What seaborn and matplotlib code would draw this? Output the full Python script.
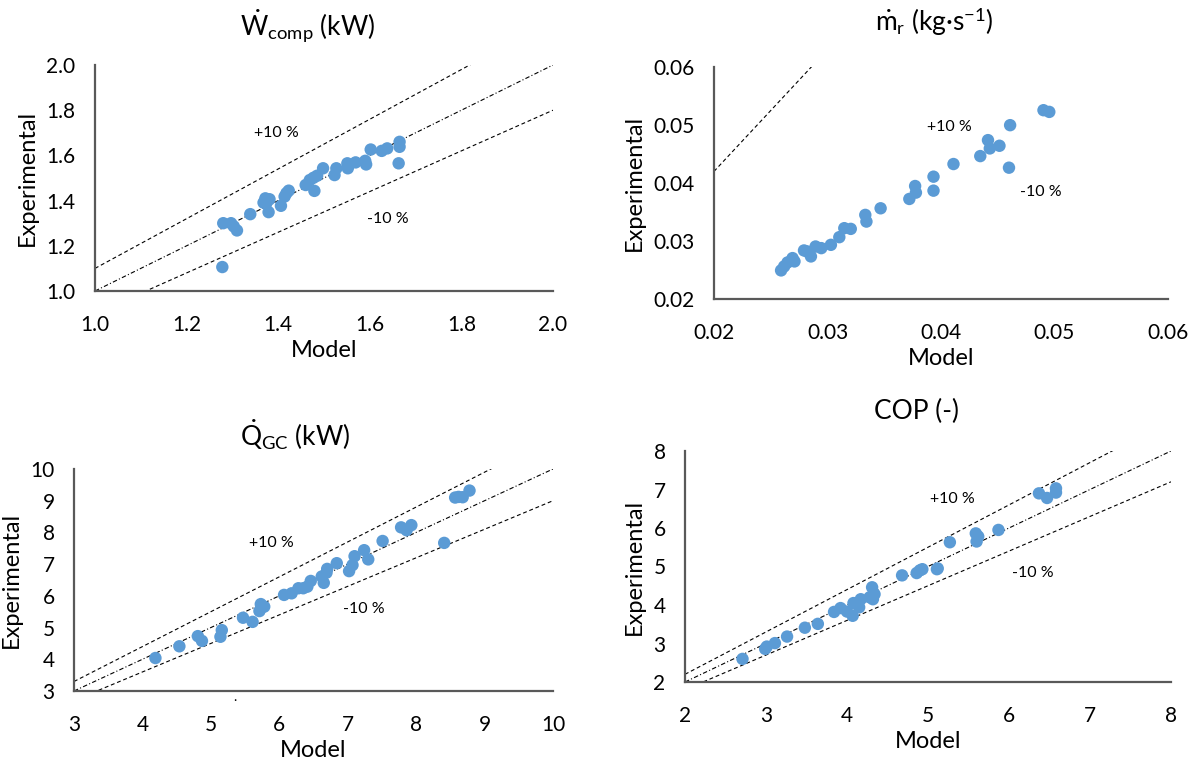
import numpy as np
import pandas as pd
import matplotlib
matplotlib.use("Agg")
import matplotlib.pyplot as plt
import seaborn as sns

# ---- compressor power (kW) ----
w_model = [1.280, 1.297, 1.303, 1.310, 1.278, 1.339, 1.368, 1.372, 1.381, 1.379,
           1.374, 1.406, 1.414, 1.418, 1.423, 1.460, 1.469, 1.477, 1.485, 1.479,
           1.498, 1.523, 1.527, 1.551, 1.552, 1.569, 1.590, 1.592, 1.602, 1.626,
           1.638, 1.665, 1.665, 1.663]
w_exp = [1.300, 1.300, 1.286, 1.268, 1.106, 1.340, 1.391, 1.410, 1.406, 1.349,
         1.388, 1.377, 1.418, 1.433, 1.444, 1.469, 1.491, 1.501, 1.510, 1.443,
         1.543, 1.513, 1.543, 1.565, 1.543, 1.569, 1.576, 1.560, 1.626, 1.620,
         1.631, 1.660, 1.638, 1.565]

# ---- refrigerant mass flow (kg/s) ----
m_model = [0.02591, 0.02618, 0.02648, 0.02692, 0.02709, 0.02793, 0.02820, 0.02854,
           0.02895, 0.02945, 0.03030, 0.03104, 0.03148, 0.03205, 0.03333, 0.03343,
           0.03468, 0.03721, 0.03772, 0.03779, 0.03934, 0.03934, 0.04110, 0.04346,
           0.04414, 0.04430, 0.04515, 0.04599, 0.04609, 0.04903, 0.04954]
m_exp = [0.02493, 0.02562, 0.02630, 0.02705, 0.02648, 0.02837, 0.02820, 0.02734,
         0.02905, 0.02877, 0.02934, 0.03066, 0.03221, 0.03209, 0.03450, 0.03335,
         0.03564, 0.03725, 0.03948, 0.03834, 0.04109, 0.03868, 0.04327, 0.04464,
         0.04739, 0.04596, 0.04642, 0.04264, 0.04997, 0.05255, 0.05226]

# ---- gas cooler heat (kW) ----
q_model = [4.19, 4.54, 4.81, 4.87, 5.14, 5.16, 5.47, 5.61, 5.71, 5.73, 5.78, 6.07,
           6.18, 6.28, 6.35, 6.41, 6.46, 6.62, 6.65, 6.69, 6.70, 6.84, 7.02, 7.07,
           7.10, 7.24, 7.30, 7.51, 7.78, 7.86, 7.93, 8.41, 8.57, 8.68, 8.62, 8.78]
q_exp = [4.04, 4.41, 4.73, 4.58, 4.71, 4.92, 5.31, 5.18, 5.52, 5.74, 5.66, 6.03,
         6.08, 6.24, 6.24, 6.29, 6.47, 6.61, 6.41, 6.73, 6.85, 7.03, 6.78, 6.97,
         7.25, 7.44, 7.15, 7.73, 8.16, 8.07, 8.23, 7.67, 9.10, 9.11, 9.12, 9.32]

# ---- COP (-) ----
c_model = [2.71, 2.99, 3.01, 3.11, 3.26, 3.48, 3.64, 3.84, 3.92, 4.00, 4.07, 4.08,
           4.15, 4.17, 4.28, 4.31, 4.34, 4.32, 4.68, 4.86, 4.90, 4.93, 5.11, 5.12,
           5.27, 5.59, 5.60, 5.62, 5.87, 6.37, 6.47, 6.58, 6.58]
c_exp = [2.60, 2.86, 2.92, 3.01, 3.18, 3.41, 3.51, 3.82, 3.92, 3.83, 3.72, 4.05,
         3.94, 4.15, 4.20, 4.46, 4.28, 4.15, 4.77, 4.83, 4.90, 4.93, 4.93, 4.95,
         5.63, 5.86, 5.65, 5.78, 5.95, 6.90, 6.78, 7.03, 6.92]

titles = [r"$\dot{\mathrm{W}}_{\mathrm{comp}}$ (kW)",
          r"$\dot{\mathrm{m}}_{\mathrm{r}}$ (kg·s$^{\mathrm{-1}}$)",
          r"$\dot{\mathrm{Q}}_{\mathrm{GC}}$ (kW)",
          "COP (-)"]

# Reference lines as slope factors y = k * x
band_factors = [1.1, 1.0, 0.9]
mflow_factors = [2.1]

sns.set_theme(style="white")
plt.rcParams["font.family"] = ["Lato", "DejaVu Sans"]
plt.rcParams["mathtext.fontset"] = "custom"
plt.rcParams["mathtext.rm"] = "Lato"
plt.rcParams["mathtext.it"] = "Lato:italic"
plt.rcParams["mathtext.bf"] = "Lato:bold"

W, H = 1204, 765
fig = plt.figure(figsize=(W / 100, H / 100), dpi=100)
fig.patch.set_facecolor("white")


def px_rect(l, r, t, b):
    return [l / W, 1 - b / H, (r - l) / W, (b - t) / H]


panels = [
    dict(rect=px_rect(95, 553, 65, 291), x=w_model, y=w_exp, lim=(1.0, 2.0),
         ticks=np.arange(1.0, 2.01, 0.2), fmt="{:.1f}", factors=band_factors,
         plus=(1.397, 1.70), minus=(1.640, 1.318), title=(308, 26)),
    dict(rect=px_rect(714, 1168, 67, 299), x=m_model, y=m_exp, lim=(0.02, 0.06),
         ticks=np.arange(0.02, 0.0601, 0.01), fmt="{:.2f}", factors=mflow_factors,
         plus=(0.04076, 0.04969), minus=(0.04876, 0.03851), title=(934, 22)),
    dict(rect=px_rect(74, 553, 469, 691), x=q_model, y=q_exp, lim=(3, 10),
         ticks=np.arange(3, 11, 1), fmt="{:.0f}", factors=band_factors,
         plus=(5.89, 7.68), minus=(7.24, 5.60), title=(295, 435)),
    dict(rect=px_rect(685, 1171, 451, 682), x=c_model, y=c_exp, lim=(2, 8),
         ticks=np.arange(2, 9, 1), fmt="{:.0f}", factors=band_factors,
         plus=(5.30, 6.75), minus=(6.29, 4.83), title=(916, 411)),
]

line_styles = {1.1: (0, (3.5, 2.5)), 1.0: (0, (4, 2, 1, 2)), 0.9: (0, (3.5, 2.5)),
               2.1: (0, (3.5, 2.5))}
spine_col = "#595959"
dot_col = "#5B9BD5"

for i, p in enumerate(panels):
    ax = fig.add_axes(p["rect"])
    lo, hi = p["lim"]
    xs = np.linspace(lo, hi, 200)
    for k in p["factors"]:
        ax.plot(xs, k * xs, color="black", lw=0.8, ls=line_styles[k], zorder=1)
    df = pd.DataFrame({"Model": p["x"], "Experimental": p["y"]})
    sns.scatterplot(data=df, x="Model", y="Experimental", ax=ax, color=dot_col,
                    s=80, edgecolor="none", linewidth=0, zorder=3, clip_on=False)
    ax.set_xlim(lo, hi)
    ax.set_ylim(lo, hi)
    ax.set_xticks(p["ticks"])
    ax.set_yticks(p["ticks"])
    ax.set_xticklabels([p["fmt"].format(t) for t in p["ticks"]])
    ax.set_yticklabels([p["fmt"].format(t) for t in p["ticks"]])
    ax.tick_params(axis="both", length=0, labelsize=15, colors="black")
    ax.tick_params(axis="x", pad=17)
    ax.tick_params(axis="y", pad=14)
    for s in ["top", "right"]:
        ax.spines[s].set_visible(False)
    for s in ["left", "bottom"]:
        ax.spines[s].set_color(spine_col)
        ax.spines[s].set_linewidth(1.6)
    ax.set_xlabel("Model", fontsize=17, labelpad=4, color="black")
    ax.set_ylabel("Experimental", fontsize=17, labelpad=6, color="black")
    ax.text(*p["plus"], "+10 %", fontsize=11.5, ha="center", va="center", color="black")
    ax.text(*p["minus"], "-10 %", fontsize=11.5, ha="center", va="center", color="black")
    fig.text(p["title"][0] / W, 1 - p["title"][1] / H, titles[i], fontsize=19,
             ha="center", va="center", color="black")
    if i == 2:
        ax.text(5.35, 2.8, ".", fontsize=10, ha="center", va="center", color="black",
                clip_on=False)

fig.savefig("out.png", dpi=100, facecolor="white")
